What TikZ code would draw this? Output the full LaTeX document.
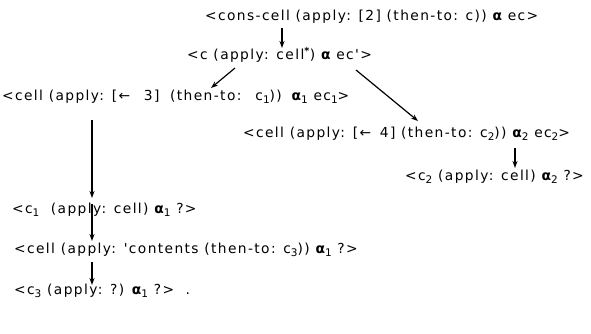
\documentclass[tikz,border=0pt]{standalone}
\usepackage{fontspec}
\setmainfont{DejaVu Sans}
\newfontfamily\lblfont[LetterSpace=10]{DejaVu Sans}
\usetikzlibrary{arrows.meta}
\newcommand{\al}{{\bfseries α}}
\newcommand{\sbs}[1]{\raisebox{-3.5pt}{\fontsize{10.5}{10.5}\selectfont #1}}
\tikzset{
  lbl/.style={anchor=west, inner sep=0pt, font=\lblfont\fontsize{13.8}{15}\selectfont},
  arr/.style={-{Stealth[length=7pt,width=5pt]}, line width=1.2pt}
}
\begin{document}
\begin{tikzpicture}[x=1pt,y=-1pt]
\useasboundingbox (0,0) rectangle (591,334);
\node[lbl] (n1) at (205,17) {<cons-cell (apply: [2] (then-to: c)) \al{} ec>};
\node[lbl] (n2) at (187,55) {<c (apply: cell\textsuperscript{\bfseries *}) \al{} ec'>};
\node[lbl] (n3) at (2,97) {<cell (apply: [←\hspace{8pt} 3]\hspace{5pt} (then-to:\hspace{14pt}c\sbs{1}))\hspace{4pt} \al\sbs{1} ec\sbs{1}>};
\node[lbl] (n4) at (243,134) {<cell (apply: [←\hspace{3pt} 4] (then-to: c\sbs{2})) \al\sbs{2} ec\sbs{2}>};
\node[lbl] (n5) at (405,177) {<c\sbs{2} (apply: cell) \al\sbs{2} ?>};
\node[lbl] (n6) at (12,210) {<c\sbs{1}\ \ (apply: cell) \al\sbs{1} ?>};
\node[lbl] (n7) at (14,250) {<cell (apply: 'contents (then-to: c\sbs{3})) \al\sbs{1} ?>};
\node[lbl] (n8) at (14,291) {<c\sbs{3} (apply: ?) \al\sbs{1} ?>\ \ .};
\draw[arr] ([shift={(77,11)}]n1.west) -- ([shift={(95,-7)}]n2.west);
\draw[arr] ([shift={(48,13)}]n2.west) -- ([shift={(209,-9)}]n3.west);
\draw[arr] ([shift={(169,15)}]n2.west) -- ([shift={(175,-13)}]n4.west);
\draw[arr] ([shift={(90,23)}]n3.west) -- ([shift={(80,-12)}]n6.west);
\draw[arr] ([shift={(272,14)}]n4.west) -- ([shift={(110,-9)}]n5.west);
\draw[arr] ([shift={(80,-6)}]n6.west) -- ([shift={(78,-9)}]n7.west);
\draw[arr] ([shift={(78,12)}]n7.west) -- ([shift={(78,-6)}]n8.west);
\end{tikzpicture}
\end{document}
